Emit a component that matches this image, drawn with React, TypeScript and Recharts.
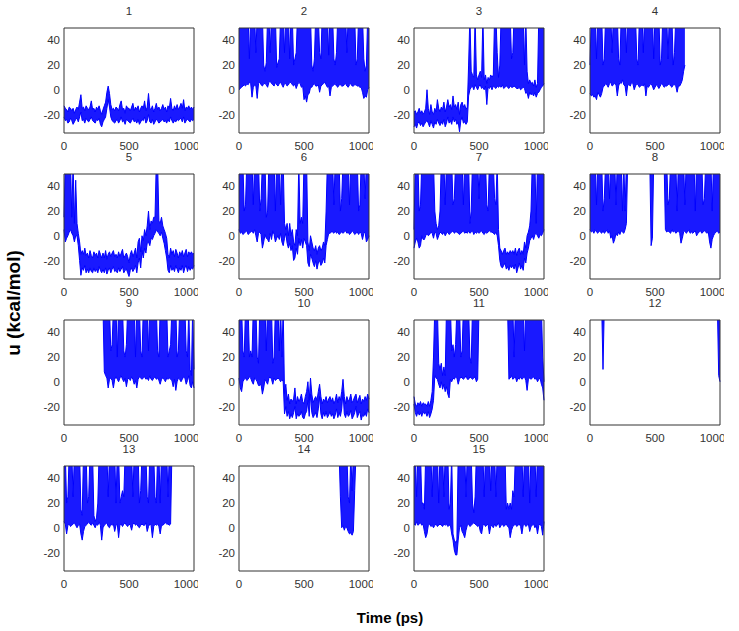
import { AreaChart, Area, XAxis, YAxis } from 'recharts';

// Each trace is sampled densely, so it is kept as a low/high envelope per 10 ps bin.
// 60 = off the top of the axes.
const STEP = 10;

const LO1 = [
  -22, -25, -24, -27, -26, -23, -25, -28, -26, -24,
  -23, -26, -22, -18, -25, -24, -27, -23, -25, -26,
  -24, -22, -25, -26, -27, -24, -25, -23, -28, -30,
  -26, -24, -22, -15, -8, -14, -22, -25, -26, -27,
  -25, -24, -27, -25, -22, -26, -25, -28, -24, -25,
  -26, -27, -25, -23, -26, -25, -27, -24, -28, -26,
  -24, -25, -22, -27, -25, -20, -26, -27, -24, -28,
  -26, -24, -25, -27, -26, -25, -24, -26, -25, -27,
  -24, -26, -22, -25, -27, -25, -26, -24, -25, -24,
  -23, -26, -22, -27, -25, -24, -25, -26, -24, -25, -24,
];
const HI1 = [
  -13, -15, -16, -18, -14, -15, -17, -15, -19, -16,
  -14, -16, -10, -4, -15, -14, -17, -13, -15, -16,
  -14, -9, -16, -15, -18, -14, -16, -13, -17, -20,
  -16, -13, -10, -2, 3, -3, -12, -16, -15, -17,
  -14, -15, -17, -12, -9, -16, -15, -19, -13, -15,
  -15, -17, -14, -11, -17, -14, -16, -13, -18, -15,
  -13, -15, -9, -17, -14, -3, -15, -16, -13, -18,
  -15, -11, -16, -14, -17, -15, -12, -16, -14, -18,
  -13, -15, -7, -15, -17, -13, -16, -12, -16, -14,
  -11, -15, -8, -17, -14, -15, -13, -16, -14, -16, -14,
];
const LO2 = [
  0, 1, 2, 3, 4, 3, 5, 4, 6, 5,
  -6, 2, 4, 3, -7, 5, 6, 4, 3, 5,
  5, 4, 2, 6, 7, 5, 4, 3, 6, 4,
  3, 5, 6, 4, 2, 5, 5, 3, 4, 6,
  6, 4, 3, 5, 1, 4, 6, 5, 2, 3,
  -8, -5, -10, -4, -3, 2, 2, 4, 5, 3,
  3, 4, -2, 3, 4, 5, 6, 4, 2, 3,
  -5, 2, 3, 4, 5, 3, 2, 4, 4, 3,
  3, 4, 5, 3, 2, 4, 5, 3, 3, 4,
  4, 3, 3, 2, 2, -2, -7, -5, -6, 0, 2,
];
const HI2 = [
  60, 60, 60, 60, 60, 60, 60, 60, 25, 60,
  60, 60, 60, 30, 60, 60, 60, 60, 60, 20,
  15, 22, 60, 60, 30, 60, 60, 60, 60, 18,
  22, 25, 60, 60, 60, 30, 60, 60, 60, 25,
  60, 60, 20, 25, 30, 60, 60, 60, 60, 60,
  60, 60, 60, 60, 60, 60, 20, 15, 25, 60,
  60, 60, 30, 25, 60, 60, 60, 60, 60, 28,
  60, 60, 60, 25, 20, 30, 60, 60, 60, 60,
  60, 60, 60, 30, 60, 60, 60, 60, 60, 60,
  20, 25, 60, 60, 60, 60, 25, 15, 20, 60, 60,
];
const LO3 = [
  -30, -28, -31, -27, -26, -29, -27, -30, -28, -26,
  -25, -27, -30, -25, -28, -31, -26, -28, -24, -27,
  -29, -26, -28, -24, -30, -27, -22, -27, -25, -28,
  -22, -26, -24, -28, -26, -34, -25, -22, -27, -26,
  -28, -26, -5, 0, 2, 3, 0, 4, 2, 0,
  3, 4, 1, 2, 0, 3, -12, 2, 1, 3,
  0, 3, 2, 1, 3, 2, 3, 2, 4, 1,
  2, 3, 2, 1, 3, 2, 2, 3, 2, 1,
  1, 2, 0, 1, 2, 1, -3, -2, -7, -2,
  -4, -3, -5, -2, -6, -3, -2, 0, 2, 3, 5,
];
const HI3 = [
  -18, -17, -20, -18, -15, -19, -17, -20, -18, -15,
  0, -15, -20, -12, -18, -20, -15, -18, -8, -15,
  -18, -14, -16, -10, -18, -14, -8, -14, -12, -16,
  -5, -14, -12, -16, -10, -20, -12, -10, -14, -12,
  -16, -14, 20, 60, 15, 12, 10, 60, 12, 8,
  12, 15, 10, 60, 8, 12, 5, 10, 8, 12,
  10, 12, 60, 60, 30, 10, 20, 60, 60, 60,
  60, 60, 60, 60, 60, 25, 30, 60, 60, 60,
  60, 60, 60, 60, 60, 20, 60, 15, 5, 8,
  5, 6, 3, 8, 2, 5, 60, 60, 60, 60, 60,
];
const LO4 = [
  -3, -5, -4, -6, -5, -8, -2, -4, -6, -3,
  2, 3, 5, 4, 2, 5, 6, 3, 4, 5,
  4, -5, 3, 6, 5, 8, 4, 3, -5, 4,
  4, 3, 6, 5, 0, 3, 5, 4, 2, 3,
  4, 3, 5, -5, 3, 2, 4, 5, 3, 0,
  2, 4, 3, 1, 3, 5, 4, 2, 3, 3,
  4, 5, 3, 2, 4, 4, 3, -2, 3, 3,
  5, 8, 15, 20, null, null, null, null, null, null,
  null, null, null, null, null, null, null, null, null, null,
  null, null, null, null, null, null, null, null, null, null, null,
];
const HI4 = [
  20, 60, 60, 60, 60, 25, 60, 60, 60, 60,
  20, 25, 60, 60, 60, 60, 60, 30, 60, 60,
  60, 60, 25, 20, 60, 60, 60, 60, 30, 60,
  60, 60, 60, 60, 60, 60, 25, 20, 60, 60,
  60, 30, 60, 60, 60, 60, 60, 60, 60, 25,
  60, 60, 60, 60, 20, 25, 60, 60, 60, 60,
  25, 60, 60, 60, 20, 30, 60, 60, 60, 60,
  60, 60, 60, 60, null, null, null, null, null, null,
  null, null, null, null, null, null, null, null, null, null,
  null, null, null, null, null, null, null, null, null, null, null,
];
const LO5 = [
  5, -5, -2, 0, 3, 5, 2, 0, -5, 0,
  0, -8, -20, -32, -26, -28, -24, -30, -27, -30,
  -26, -29, -30, -26, -29, -27, -30, -25, -28, -30,
  -27, -30, -26, -31, -28, -26, -30, -27, -25, -29,
  -28, -30, -26, -29, -27, -25, -30, -28, -27, -30,
  -33, -28, -26, -29, -27, -24, -30, -22, -18, -26,
  -12, -18, -10, -14, -6, -5, -8, -2, -3, 0,
  2, 5, 3, 2, 0, 3, -2, -6, -12, -18,
  -28, -30, -24, -28, -26, -29, -24, -27, -30, -26,
  -28, -24, -30, -26, -24, -29, -25, -28, -26, -27, -24,
];
const HI5 = [
  15, 60, 60, 60, 60, 60, 15, 60, 10, 45,
  10, 2, -5, -15, -12, -15, -10, -16, -14, -18,
  -12, -16, -18, -13, -16, -14, -18, -12, -15, -18,
  -14, -18, -12, -19, -15, -13, -17, -14, -12, -17,
  -15, -18, -13, -17, -14, -11, -18, -16, -14, -17,
  -22, -15, -12, -17, -14, -10, -18, -5, -2, -13,
  0, -4, 5, 0, 8, 20, 5, 12, 10, 15,
  15, 60, 60, 12, 10, 15, 8, 5, 2, -2,
  -15, -18, -10, -15, -12, -17, -11, -14, -18, -13,
  -16, -12, -17, -14, -11, -17, -13, -15, -13, -15, -14,
];
const LO6 = [
  5, 2, 3, 1, 2, 3, 4, 1, 2, 3,
  4, 2, 5, 0, -5, 2, 3, 1, -10, -5,
  1, -2, -3, -5, 2, -3, 4, 1, -5, -2,
  0, -3, 2, -5, -8, -2, 2, -6, -10, -6,
  -12, -8, -20, -18, -10, -15, -2, -8, -3, -10,
  -2, -5, -8, -22, -25, -15, -18, -22, -25, -20,
  -27, -22, -20, -24, -22, -18, -22, -8, -3, 2,
  2, 3, 3, 2, 4, 2, 3, 1, 2, 3,
  2, 3, 4, 2, 3, 1, 2, 4, 3, 1,
  2, 3, 1, 3, 2, -3, 2, 3, -5, -3, 0,
];
const HI6 = [
  60, 60, 60, 60, 20, 25, 60, 60, 60, 60,
  60, 25, 60, 60, 60, 60, 20, 30, 60, 60,
  60, 15, 20, 60, 60, 60, 60, 60, 20, 60,
  60, 60, 25, 60, 60, 10, 5, 10, 0, 10,
  0, 5, -5, -8, 5, 0, 60, 10, 15, 10,
  60, 60, 60, -5, -12, 0, -5, -10, -12, -8,
  -15, -10, -8, -12, -10, -5, -8, 20, 60, 60,
  60, 60, 60, 25, 60, 60, 60, 60, 20, 30,
  60, 60, 60, 60, 60, 25, 60, 60, 60, 60,
  60, 60, 20, 25, 60, 60, 60, 30, 60, 60, 60,
];
const LO7 = [
  -10, -5, -2, -5, -10, -8, 0, -3, -3, 0,
  2, 0, 1, 3, 2, -2, 3, 2, -3, 0,
  3, 2, 1, 3, 0, 2, 3, 1, 2, 3,
  4, 2, 3, 3, 2, 1, 2, 3, 4, 2,
  3, 2, 4, 2, 3, 4, 1, 3, 2, 3,
  2, 3, 4, 2, 1, 3, 2, 3, 4, 3,
  3, 2, 1, 3, 0, -8, -20, -25, -26, -24,
  -22, -27, -25, -28, -24, -26, -24, -27, -23, -30,
  -26, -22, -27, -24, -28, -18, -22, -14, -10, -4,
  -2, 0, -3, 1, 2, 0, -2, 1, 0, 2, 5,
];
const HI7 = [
  5, 60, 60, 60, 20, 25, 60, 60, 60, 60,
  60, 60, 60, 60, 60, 60, 20, 10, 5, 8,
  20, 60, 60, 60, 25, 60, 60, 60, 60, 60,
  25, 30, 60, 60, 60, 60, 60, 60, 25, 60,
  60, 60, 60, 10, 20, 60, 60, 60, 60, 60,
  30, 60, 60, 60, 60, 60, 25, 20, 60, 60,
  60, 60, 30, 25, 60, 5, -10, -12, -15, -12,
  -10, -15, -13, -15, -12, -14, -12, -15, -10, -16,
  -12, -10, -15, -12, -15, -5, -10, 0, 3, 8,
  20, 60, 60, 60, 10, 60, 60, 60, 60, 60, 60,
];
const LO8 = [
  5, 3, 4, 2, 5, 3, 2, 4, 3, 2,
  4, 2, 3, 5, 2, 4, -2, 0, -6, -3,
  2, 0, 3, 1, 4, 3, 2, 5, 10, 60,
  60, 60, 60, 60, 60, 60, 60, 60, 60, 60,
  60, 60, 60, 60, 60, 60, 60, -8, -2, 60,
  60, 60, 60, 60, 60, 60, 60, 60, 5, 3,
  4, 3, 2, 5, 3, 4, 2, 3, 4, 2,
  -6, -2, 3, 4, 2, 3, 5, 2, 3, 2,
  3, 4, 0, 2, 3, 4, 2, 3, 4, 3,
  2, 3, -5, -10, -3, 0, 2, 3, 4, 2, 3,
];
const HI8 = [
  60, 60, 60, 60, 60, 25, 60, 60, 60, 60,
  20, 30, 60, 60, 60, 30, 60, 60, 60, 60,
  25, 60, 60, 60, 60, 20, 60, 20, 60, 60,
  60, 60, 60, 60, 60, 60, 60, 60, 60, 60,
  60, 60, 60, 60, 60, 60, 60, 60, 60, 60,
  60, 60, 60, 60, 60, 60, 60, 60, 60, 60,
  25, 30, 60, 60, 60, 60, 60, 20, 60, 60,
  60, 60, 60, 25, 60, 60, 60, 60, 60, 60,
  60, 20, 60, 60, 60, 60, 60, 25, 30, 60,
  60, 60, 60, 60, 20, 60, 60, 60, 60, 60, 60,
];
const LO9 = [
  60, 60, 60, 60, 60, 60, 60, 60, 60, 60,
  60, 60, 60, 60, 60, 60, 60, 60, 60, 60,
  60, 60, 60, 60, 60, 60, 60, 60, 60, 60,
  60, 8, 5, 3, -5, 2, 3, 1, -5, 2,
  4, 2, 0, 3, 5, 2, 0, 3, -4, 2,
  3, 1, 4, 2, -2, 1, -5, 2, 4, 3,
  2, 3, 4, 2, 3, 1, 5, 2, 1, 3,
  4, 2, 3, 1, -2, 2, 3, 2, 0, 3,
  2, 3, 2, 1, -4, 2, -7, 0, 3, 2,
  0, 2, 4, 3, -2, 1, 5, -3, -5, 0, -5,
];
const HI9 = [
  60, 60, 60, 60, 60, 60, 60, 60, 60, 60,
  60, 60, 60, 60, 60, 60, 60, 60, 60, 60,
  60, 60, 60, 60, 60, 60, 60, 60, 60, 60,
  60, 60, 60, 60, 60, 60, 25, 30, 60, 60,
  60, 20, 60, 60, 60, 60, 25, 20, 30, 60,
  60, 60, 60, 60, 60, 20, 60, 60, 60, 25,
  20, 60, 60, 60, 60, 25, 60, 60, 60, 60,
  60, 60, 25, 20, 60, 60, 60, 60, 60, 60,
  20, 25, 30, 60, 60, 60, 60, 20, 25, 60,
  60, 60, 60, 60, 25, 20, 60, 10, 5, 60, 10,
];
const LO10 = [
  3, -5, -8, 0, 2, 3, 1, 2, 4, 3,
  0, -2, 3, 2, 0, -3, -3, -2, -10, -5,
  2, 0, -2, 3, 4, 2, -2, 3, 1, 2,
  3, 2, 0, 2, 0, -26, -20, -28, -24, -30,
  -26, -29, -25, -20, -30, -26, -28, -27, -24, -29,
  -30, -26, -24, -15, -28, -10, -25, -29, -27, -25,
  -29, -22, -12, -26, -30, -25, -28, -24, -29, -27,
  -24, -28, -26, -30, -27, -22, -29, -25, -28, -22,
  -8, -26, -29, -24, -28, -27, -23, -30, -28, -25,
  -20, -29, -26, -24, -31, -27, -28, -25, -28, -22, -25,
];
const HI10 = [
  60, 60, 60, 25, 20, 60, 60, 60, 20, 25,
  20, 60, 60, 60, 20, 15, 60, 60, 60, 60,
  60, 25, 60, 60, 60, 60, 15, 20, 60, 60,
  60, 25, 60, 20, 60, -10, -2, -15, -10, -18,
  -14, -16, -14, -5, -18, -12, -16, -14, -10, -16,
  -18, -12, -8, 0, -15, 3, -10, -17, -14, -12,
  -15, -8, -2, -12, -18, -14, -16, -12, -17, -14,
  -12, -16, -13, -18, -15, -10, -17, -12, -15, -8,
  2, -12, -18, -12, -16, -14, -10, -17, -15, -12,
  -10, -17, -14, -11, -18, -14, -16, -12, -15, -10, -14,
];
const LO11 = [
  -18, -25, -28, -24, -27, -25, -28, -24, -26, -25,
  -28, -24, -29, -26, -22, -15, 5, 3, 2, -2,
  -5, 0, -6, -2, -8, -4, -10, -13, 2, 0,
  3, 2, 4, 3, -2, 2, 4, 3, 2, 3,
  5, 2, 2, 4, 3, 2, 3, 4, 0, 2,
  60, 60, 60, 60, 60, 60, 60, 60, 60, 60,
  60, 60, 60, 60, 60, 60, 60, 60, 60, 60,
  60, 60, 60, 2, 3, 5, 2, 3, 4, 0,
  3, 2, 4, 2, 3, 4, 1, -7, 2, 3,
  2, 3, 4, 2, 3, 0, 2, 3, -2, -5, -15,
];
const HI11 = [
  -12, -18, -20, -17, -19, -16, -20, -17, -18, -18,
  -20, -16, -20, -15, -8, 20, 60, 60, 60, 15,
  10, 15, 5, 12, 5, 60, 60, 60, 60, 25,
  30, 20, 30, 60, 60, 60, 20, 25, 60, 60,
  60, 60, 60, 20, 15, 60, 60, 60, 60, 60,
  60, 60, 60, 60, 60, 60, 60, 60, 60, 60,
  60, 60, 60, 60, 60, 60, 60, 60, 60, 60,
  60, 60, 60, 60, 60, 60, 60, 20, 60, 60,
  60, 60, 60, 60, 60, 25, 60, 60, 60, 60,
  60, 60, 60, 60, 60, 60, 60, 60, 60, 20, 0,
];
const LO12 = [
  60, 60, 60, 60, 60, 60, 60, 60, 60, 60,
  10, 60, 60, 60, 60, 60, 60, 60, 60, 60,
  60, 60, 60, 60, 60, 60, 60, 60, 60, 60,
  60, 60, 60, 60, 60, 60, 60, 60, 60, 60,
  60, 60, 60, 60, 60, 60, 60, 60, 60, 60,
  60, 60, 60, 60, 60, 60, 60, 60, 60, 60,
  60, 60, 60, 60, 60, 60, 60, 60, 60, 60,
  60, 60, 60, 60, 60, 60, 60, 60, 60, 60,
  60, 60, 60, 60, 60, 60, 60, 60, 60, 60,
  60, 60, 60, 60, 60, 60, 60, 60, 60, 5, 0,
];
const HI12 = [
  60, 60, 60, 60, 60, 60, 60, 60, 60, 60,
  60, 60, 60, 60, 60, 60, 60, 60, 60, 60,
  60, 60, 60, 60, 60, 60, 60, 60, 60, 60,
  60, 60, 60, 60, 60, 60, 60, 60, 60, 60,
  60, 60, 60, 60, 60, 60, 60, 60, 60, 60,
  60, 60, 60, 60, 60, 60, 60, 60, 60, 60,
  60, 60, 60, 60, 60, 60, 60, 60, 60, 60,
  60, 60, 60, 60, 60, 60, 60, 60, 60, 60,
  60, 60, 60, 60, 60, 60, 60, 60, 60, 60,
  60, 60, 60, 60, 60, 60, 60, 60, 60, 60, 60,
];
const LO13 = [
  5, 3, -5, 2, 3, 1, 2, 3, 4, 2,
  0, 2, 3, -5, -10, -3, 1, 2, 3, 5,
  3, 2, 4, 2, 0, 3, 2, 5, 2, -10,
  0, 2, 3, 4, 1, 0, 3, 2, 3, -3,
  2, 3, -8, 2, 3, 1, 3, 4, 2, 1,
  3, 2, -2, 3, 4, 2, 3, 1, 0, 2,
  3, 2, 2, 4, -3, 1, 3, 2, -8, 1,
  3, 2, 3, 1, -5, 2, 2, 3, 4, 3,
  3, 2, 3, 60, 60, 60, 60, 60, 60, 60,
  60, 60, 60, 60, 60, 60, 60, 60, 60, 60, 60,
];
const HI13 = [
  60, 60, 20, 25, 60, 60, 60, 25, 60, 60,
  60, 60, 60, 15, 10, 60, 60, 60, 20, 25,
  60, 60, 60, 10, 5, 8, 20, 60, 60, 60,
  60, 60, 60, 60, 25, 60, 60, 60, 60, 60,
  20, 60, 60, 20, 25, 30, 25, 60, 60, 60,
  60, 60, 60, 25, 60, 60, 60, 60, 20, 30,
  60, 60, 60, 60, 25, 20, 60, 60, 60, 60,
  25, 20, 60, 60, 20, 60, 60, 60, 60, 60,
  25, 60, 60, 60, 60, 60, 60, 60, 60, 60,
  60, 60, 60, 60, 60, 60, 60, 60, 60, 60, 60,
];
const LO14 = [
  60, 60, 60, 60, 60, 60, 60, 60, 60, 60,
  60, 60, 60, 60, 60, 60, 60, 60, 60, 60,
  60, 60, 60, 60, 60, 60, 60, 60, 60, 60,
  60, 60, 60, 60, 60, 60, 60, 60, 60, 60,
  60, 60, 60, 60, 60, 60, 60, 60, 60, 60,
  60, 60, 60, 60, 60, 60, 60, 60, 60, 60,
  60, 60, 60, 60, 60, 60, 60, 60, 60, 60,
  60, 60, 60, 60, 60, 60, 60, 60, 25, 0,
  2, -2, 1, 0, -3, -5, -4, -6, -3, 30,
  60, 60, 60, 60, 60, 60, 60, 60, 60, 60, 60,
];
const HI14 = [
  60, 60, 60, 60, 60, 60, 60, 60, 60, 60,
  60, 60, 60, 60, 60, 60, 60, 60, 60, 60,
  60, 60, 60, 60, 60, 60, 60, 60, 60, 60,
  60, 60, 60, 60, 60, 60, 60, 60, 60, 60,
  60, 60, 60, 60, 60, 60, 60, 60, 60, 60,
  60, 60, 60, 60, 60, 60, 60, 60, 60, 60,
  60, 60, 60, 60, 60, 60, 60, 60, 60, 60,
  60, 60, 60, 60, 60, 60, 60, 60, 60, 60,
  60, 60, 60, 60, 25, 20, 60, 30, 60, 60,
  60, 60, 60, 60, 60, 60, 60, 60, 60, 60, 60,
];
const LO15 = [
  3, 2, 5, 2, 3, 4, 2, 3, -3, -8,
  -5, 2, 3, 1, 2, 0, 2, 3, 1, 2,
  3, 2, 1, 3, 2, 3, 1, 2, 2, -5,
  -10, -18, -22, -22, -10, 0, 2, -3, -5, -8,
  -2, 2, 3, 1, 2, 3, 4, 3, 2, 1,
  2, -3, -5, 2, 3, 1, 2, 3, -5, 1,
  2, 0, 3, 1, 2, 4, 0, 2, 3, 1,
  2, 3, 1, 0, -8, -2, 1, 2, 3, 1,
  2, 3, 1, -5, 2, 3, 1, 2, 3, -3,
  1, 2, 3, 0, 2, -5, 2, 3, 1, -6, 5,
];
const HI15 = [
  60, 60, 25, 60, 60, 60, 20, 20, 15, 60,
  60, 60, 60, 60, 25, 60, 60, 60, 60, 20,
  60, 60, 60, 25, 60, 60, 60, 15, 20, 60,
  -5, -10, -12, -10, 60, 60, 60, 60, 60, 60,
  25, 60, 60, 60, 60, 20, 12, 25, 60, 60,
  60, 60, 60, 60, 25, 60, 60, 60, 60, 30,
  60, 60, 60, 25, 60, 60, 60, 60, 60, 60,
  60, 15, 20, 15, 20, 15, 30, 25, 60, 60,
  60, 60, 60, 60, 25, 60, 60, 60, 60, 20,
  60, 60, 60, 60, 25, 60, 60, 60, 60, 60, 60,
];

const LOWS = [LO1, LO2, LO3, LO4, LO5, LO6, LO7, LO8, LO9, LO10, LO11, LO12, LO13, LO14, LO15];
const HIGHS = [HI1, HI2, HI3, HI4, HI5, HI6, HI7, HI8, HI9, HI10, HI11, HI12, HI13, HI14, HI15];
const TITLES = ['1', '2', '3', '4', '5', '6', '7', '8', '9', '10', '11', '12', '13', '14', '15'];
const X_TICKS = [0, 500, 1000];
const Y_TICKS = [-20, 0, 20, 40];

const COL_X = [64, 239, 414, 590];
const ROW_Y = [28, 174, 320, 466];
const PLOT_W = 130;
const PLOT_H = 105;
const Y_AXIS_W = 40;
const X_AXIS_H = 24;
const TOP = 20;

const FONT = 'Liberation Sans, Arial, sans-serif';
const INK = '#333';
const BLUE = '#0000ff';
const tickStyle = { fontSize: 11.5, fill: INK, fontFamily: FONT };

type Row = { t: number; band: [number, number] | null };

function Panel({ lo, hi, left, top }: { lo: (number | null)[]; hi: (number | null)[]; left: number; top: number }) {
  const data: Row[] = lo.map((l, i) => ({
    t: i * STEP,
    band: l == null || hi[i] == null ? null : [l, hi[i] as number],
  }));
  return (
    <div style={{ position: 'absolute', left: left - Y_AXIS_W, top: top - TOP }}>
      <AreaChart
        width={Y_AXIS_W + PLOT_W + 4}
        height={TOP + PLOT_H + X_AXIS_H}
        data={data}
        margin={{ top: TOP, right: 4, left: 0, bottom: 0 }}
      >
        <XAxis xAxisId="x" dataKey="t" type="number" domain={[0, 1000]} ticks={X_TICKS}
          height={X_AXIS_H} tickLine={false} tickSize={6} tickMargin={3}
          axisLine={{ stroke: INK }} tick={tickStyle} />
        <XAxis xAxisId="xb" type="number" domain={[0, 1000]} ticks={X_TICKS} mirror
          axisLine={false} tick={false} tickSize={3} tickLine={{ stroke: INK }} />
        <XAxis xAxisId="xt" orientation="top" type="number" domain={[0, 1000]} ticks={X_TICKS} mirror
          axisLine={{ stroke: INK }} tick={false} tickSize={3} tickLine={{ stroke: INK }} />
        <YAxis yAxisId="y" type="number" domain={[-35, 50]} ticks={Y_TICKS} allowDataOverflow
          width={Y_AXIS_W} tickLine={false} tickSize={2} tickMargin={2}
          axisLine={{ stroke: INK }} tick={tickStyle} />
        <YAxis yAxisId="yl" type="number" domain={[-35, 50]} ticks={Y_TICKS} mirror
          axisLine={false} tick={false} tickSize={3} tickLine={{ stroke: INK }} />
        <YAxis yAxisId="yr" orientation="right" type="number" domain={[-35, 50]} ticks={Y_TICKS} mirror
          axisLine={{ stroke: INK }} tick={false} tickSize={3} tickLine={{ stroke: INK }} />
        <Area xAxisId="x" yAxisId="y" type="linear" dataKey="band" stroke={BLUE} strokeWidth={1}
          fill={BLUE} fillOpacity={0.9} dot={false} activeDot={false} isAnimationActive={false} />
      </AreaChart>
    </div>
  );
}

export default function App() {
  return (
    <div style={{ position: 'absolute', left: 0, top: 0, width: 739, height: 631, background: '#fff' }}>
      {LOWS.map((lo, k) => (
        <Panel key={k} lo={lo} hi={HIGHS[k]} left={COL_X[k % 4]} top={ROW_Y[Math.floor(k / 4)]} />
      ))}
      <svg width={739} height={631} style={{ position: 'absolute', left: 0, top: 0, pointerEvents: 'none' }}>
        {TITLES.map((title, k) => (
          <text key={k} x={COL_X[k % 4] + PLOT_W / 2} y={ROW_Y[Math.floor(k / 4)] - 13}
            textAnchor="middle" fontSize={11.5} fill={INK} fontFamily={FONT}>{title}</text>
        ))}
        <text x={20} y={303} transform="rotate(-90 20 303)" textAnchor="middle"
          fontSize={19} fontWeight="bold" fill="#000" fontFamily={FONT}>u (kcal/mol)</text>
        <text x={390} y={623} textAnchor="middle" fontSize={15} fontWeight="bold"
          fill="#000" fontFamily={FONT}>Time (ps)</text>
      </svg>
    </div>
  );
}
